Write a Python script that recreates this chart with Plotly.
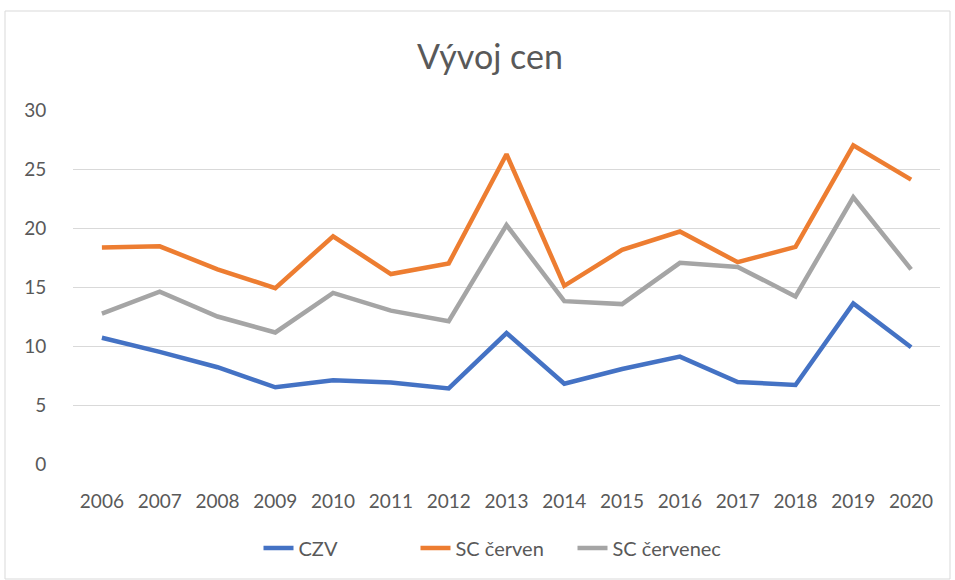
import plotly.graph_objects as go

years = [str(y) for y in range(2006, 2021)]
czv = [10.7, 9.5, 8.2, 6.5, 7.1, 6.9, 6.4, 11.1, 6.8, 8.05, 9.1, 6.95, 6.7, 13.6, 9.9]
sc_cerven = [18.35, 18.45, 16.5, 14.9, 19.3, 16.1, 17.0, 26.25, 15.1, 18.15, 19.7, 17.1, 18.4, 27.0, 24.1]
sc_cervenec = [12.75, 14.6, 12.5, 11.15, 14.5, 13.0, 12.1, 20.25, 13.8, 13.55, 17.05, 16.7, 14.2, 22.6, 16.5]

names = ["CZV", "SC červen", "SC červenec"]
colors = ["#4472C4", "#ED7D31", "#A5A5A5"]
series = [czv, sc_cerven, sc_cervenec]

W, H = 955, 580
ml, mr, mt, mb = 73, 15, 110, 116
pw, ph = W - ml - mr, H - mt - mb

fig = go.Figure()
for n, c, s in zip(names, colors, series):
    fig.add_trace(go.Scatter(x=years, y=s, name=n, mode="lines",
                             line=dict(color=c, width=4.5, shape="linear")))

font = "Lato, 'Open Sans', sans-serif"
txt = "#595959"

fig.update_layout(
    width=W, height=H,
    margin=dict(l=ml, r=mr, t=mt, b=mb, autoexpand=False),
    paper_bgcolor="white", plot_bgcolor="white",
    title=dict(text="Vývoj cen", x=490 / W, xanchor="center", xref="container",
               y=1 - 57 / H, yanchor="middle",
               font=dict(family=font, size=34, color=txt)),
    font=dict(family=font, color=txt, size=19),
    xaxis=dict(type="category", range=[-0.5, len(years) - 0.5],
               showgrid=False, zeroline=False, showline=False,
               ticks="outside", ticklen=20, tickcolor="rgba(0,0,0,0)",
               tickfont=dict(size=19, color=txt)),
    yaxis=dict(range=[0, 30], dtick=5, showgrid=True, gridcolor="#D9D9D9", gridwidth=1,
               zeroline=False, showline=False, ticks="outside", ticklen=22, tickcolor="rgba(0,0,0,0)",
               tickfont=dict(size=19, color=txt)),
    legend=dict(orientation="h", x=494 / W, xanchor="center", xref="container",
                yref="container", y=1 - 548 / H, yanchor="middle",
                font=dict(size=20, color=txt), traceorder="normal",
                itemwidth=30, entrywidth=112, entrywidthmode="pixels"),
    showlegend=True,
)

# chart border
fig.add_shape(type="rect", xref="paper", yref="paper",
              x0=(5 - ml) / pw, x1=(950 - ml) / pw,
              y0=1 - (579 - mt) / ph, y1=1 - (11 - mt) / ph,
              line=dict(color="#D9D9D9", width=1), fillcolor="rgba(0,0,0,0)", layer="below")

fig.write_html("out.html", config={"displayModeBar": False},
               post_script="document.body.style.margin='0';document.body.style.padding='0';")
